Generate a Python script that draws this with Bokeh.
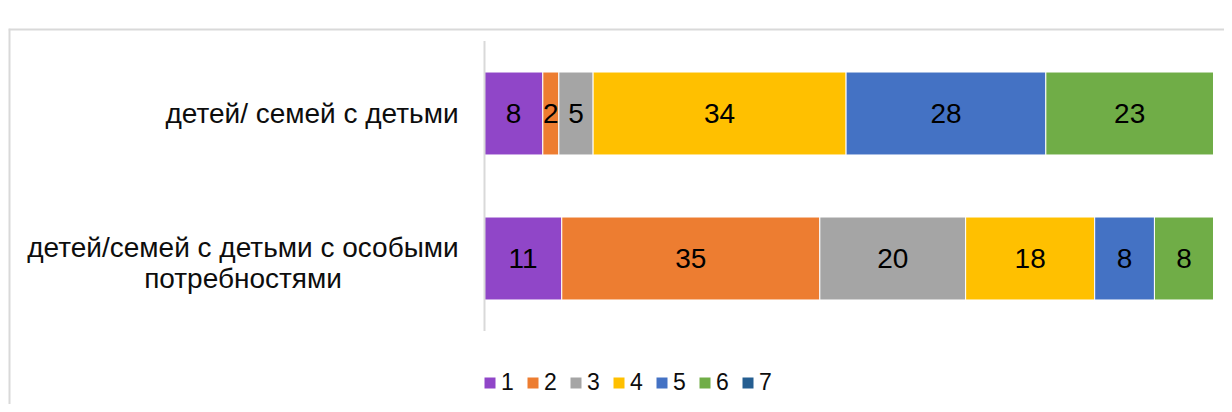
from bokeh.plotting import figure
from bokeh.models import ColumnDataSource, Range1d, LabelSet, Legend, LegendItem, Span
from bokeh.core.properties import value
from bokeh.embed import file_html
from bokeh.resources import INLINE

categories = ["детей/семей с детьми с особыми\nпотребностями", "детей/ семей с детьми"]
series_names = ["1", "2", "3", "4", "5", "6", "7"]
# bar widths (percent), per series: [bottom row, top row]
s1 = [10.6, 8.0]
s2 = [35.4, 2.2]
s3 = [20.0, 4.7]
s4 = [17.7, 34.7]
s5 = [8.2, 27.4]
s6 = [8.1, 23.0]
s7 = [0.0, 0.0]
# data labels as shown
lab1 = ["11", "8"]
lab2 = ["35", "2"]
lab3 = ["20", "5"]
lab4 = ["18", "34"]
lab5 = ["8", "28"]
lab6 = ["8", "23"]
colors = ["#9046C8", "#ED7D31", "#A5A5A5", "#FFC000", "#4472C4", "#70AD47", "#255E91"]

series = [s1, s2, s3, s4, s5, s6, s7]
labels = [lab1, lab2, lab3, lab4, lab5, lab6]

FONT = "Liberation Sans"
W, H = 1224, 404
FL, FT = 8, 28            # frame left / top in pixels (chart box corner)
X0PX, X100PX = 484, 1213  # pixel of value 0 and 100
PXU = (X100PX - X0PX) / 100.0
YPITCH = 145.0            # pixels per category
YTOP = 113.0              # pixel center of top category

x_start = -(X0PX - FL) / PXU
x_end = 100 + (W - X100PX) / PXU
y_end = 1 + (YTOP - FT) / YPITCH
y_start = -(H - (YTOP + YPITCH)) / YPITCH

p = figure(width=W, height=H, x_range=Range1d(x_start, x_end), y_range=Range1d(y_start, y_end),
           output_backend="svg", toolbar_location=None,
           min_border_left=FL, min_border_right=0, min_border_top=FT, min_border_bottom=0)
p.outline_line_color = None
p.grid.grid_line_color = None
p.xaxis.visible = False
p.yaxis.visible = False

ypos = list(range(len(categories)))
data = {"y": ypos}
for n, s in zip(series_names, series):
    data[n] = s
src = ColumnDataSource(data)
rends = p.hbar_stack(series_names, y="y", height=0.572, color=colors, source=src,
                     line_color="white", line_width=1)

# value axis line
p.segment(x0=[0], x1=[0], y0=[-0.5], y1=[len(categories) - 0.5], line_color="#D9D9D9", line_width=2)

# category labels (each line centred, block right-aligned next to the axis)
block_off = {0: -241.5, 1: -172.5}
line_offs = {1: [0.0], 2: [11.5, -20.0]}
lx, ly, lt, xo, yo = [], [], [], [], []
for i, c in enumerate(categories):
    lines = c.split("\n")
    for ln, off in zip(lines, line_offs[len(lines)]):
        lx.append(0); ly.append(i); lt.append(ln); xo.append(block_off[i]); yo.append(off)
csrc = ColumnDataSource(dict(x=lx, y=ly, t=lt, xo=xo, yo=yo))
p.add_layout(LabelSet(x="x", y="y", text="t", source=csrc, x_offset="xo", y_offset="yo",
                      text_align="center", text_baseline="middle", text_font=value(FONT),
                      text_font_size="28px", text_color="#0D0D0D"))

# data labels
for i in range(6):
    left = [sum(series[k][j] for k in range(i)) for j in range(2)]
    mid = [left[j] + series[i][j] / 2 for j in range(2)]
    lsrc = ColumnDataSource(dict(x=mid, y=ypos, t=labels[i]))
    p.add_layout(LabelSet(x="x", y="y", text="t", source=lsrc, text_align="center",
                          text_baseline="middle", text_font=value(FONT),
                          text_font_size="28px", text_color="black"))

legend = Legend(items=[LegendItem(label=n, renderers=[r]) for n, r in zip(series_names, rends)],
                orientation="horizontal", location=(X0PX - 2 - FL, 8),
                glyph_width=15, glyph_height=15, label_standoff=4, spacing=4,
                padding=0, margin=0, border_line_color=None, background_fill_alpha=0,
                label_text_font=FONT, label_text_font_size="23px", label_text_color="#0D0D0D")
p.add_layout(legend, "center")

# chart box edges (left and top)
p.add_layout(Span(location=x_start, dimension="height", line_color="#D9D9D9", line_width=4))
p.add_layout(Span(location=y_end, dimension="width", line_color="#D9D9D9", line_width=4))

open("out.html", "w").write(file_html(p, INLINE))
